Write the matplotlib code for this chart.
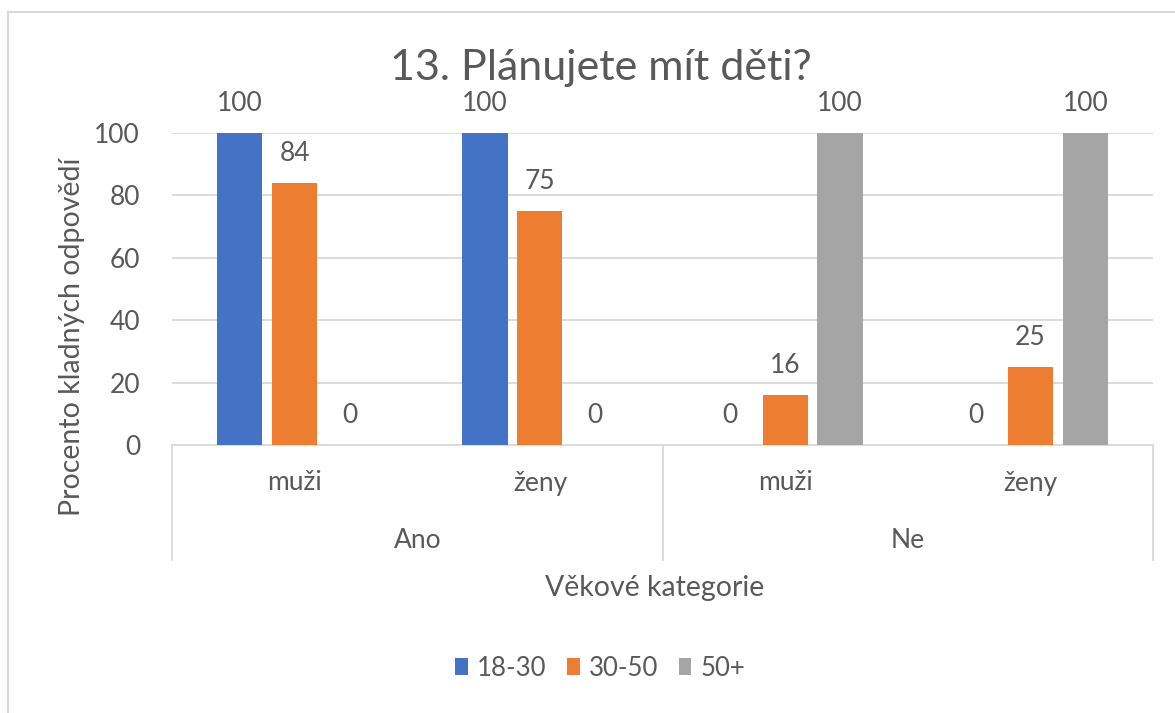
import numpy as np
import matplotlib.pyplot as plt
from matplotlib.lines import Line2D

plt.rcParams['font.family'] = ['Lato', 'DejaVu Sans']

# data
inner_labels = ["muži", "ženy", "muži", "ženy"]
outer_labels = ["Ano", "Ne"]
series_names = ["18-30", "30-50", "50+"]
vals_18_30 = [100, 100, 0, 0]
vals_30_50 = [84, 75, 16, 25]
vals_50 = [0, 0, 100, 100]
y_ticks = [0, 20, 40, 60, 80, 100]

colors = ["#4472C4", "#ED7D31", "#A5A5A5"]
txt_col = "#595959"
grid_col = "#D9D9D9"

fig = plt.figure(figsize=(11.75, 7.13), dpi=100)
ax = fig.add_axes([172 / 1175, 1 - 445 / 713, (1153 - 172) / 1175, (445 - 133) / 713])

x = np.arange(len(inner_labels))
bw = 0.184
step = 0.224
for i, (vals, name) in enumerate(zip([vals_18_30, vals_30_50, vals_50], series_names)):
    xs = x + (i - 1) * step
    ax.bar(xs, vals, width=bw, color=colors[i], label=name, zorder=3)
    for xx, v in zip(xs, vals):
        ax.annotate(f"{v}", (xx, v), xytext=(0, 16), textcoords="offset points",
                    ha="center", va="baseline", fontsize=19, color=txt_col,
                    annotation_clip=False)

ax.set_xlim(-0.5, len(inner_labels) - 0.5)
ax.set_ylim(0, 100)
ax.set_yticks(y_ticks)
ax.yaxis.grid(True, color=grid_col, lw=1.3, zorder=0)
ax.tick_params(axis="y", length=0, pad=23, labelsize=19, labelcolor=txt_col)
ax.set_xticks([])
for s in ["top", "right", "left"]:
    ax.spines[s].set_visible(False)
ax.spines["bottom"].set_color(grid_col)
ax.spines["bottom"].set_linewidth(1.3)

# multi-level category axis
tr = ax.get_xaxis_transform()
low = -(560 - 445) / 312
for xd in [-0.5, 1.5, 3.5]:
    ax.add_line(Line2D([xd, xd], [0, low], transform=tr, color=grid_col, lw=1.3, clip_on=False))
for xi, lab in zip(x, inner_labels):
    ax.text(xi, -(483 - 445) / 312, lab, transform=tr, ha="center", va="center",
            fontsize=19, color=txt_col)
for gi, lab in enumerate(outer_labels):
    ax.text(gi * 2 + 0.5, -(540 - 445) / 312, lab, transform=tr, ha="center", va="center",
            fontsize=19, color=txt_col)

fig.text(655 / 1175, 1 - 588 / 713, "Věkové kategorie", ha="center", va="center",
         fontsize=20.5, color=txt_col)
fig.text(72 / 1175, 1 - 337 / 713, "Procento kladných odpovědí", ha="center", va="center",
         rotation=90, fontsize=20.5, color=txt_col)
fig.text(601 / 1175, 1 - 80 / 713, "13. Plánujete mít děti?", ha="center", va="baseline",
         fontsize=31, color=txt_col)

leg = ax.legend(loc="center", bbox_to_anchor=(600 / 1175, 1 - 668 / 713),
                bbox_transform=fig.transFigure, ncol=3, frameon=False,
                handlelength=0.5, handleheight=0.6, handletextpad=0.35,
                columnspacing=0.8, fontsize=18.5)
for t in leg.get_texts():
    t.set_color(txt_col)

# outer chart border (only top and left visible)
fig.add_artist(Line2D([8 / 1175, 8 / 1175], [0, 1 - 12 / 713], color=grid_col, lw=1.5))
fig.add_artist(Line2D([8 / 1175, 1], [1 - 12 / 713, 1 - 12 / 713], color=grid_col, lw=1.5))

fig.savefig("out.png", dpi=100)
